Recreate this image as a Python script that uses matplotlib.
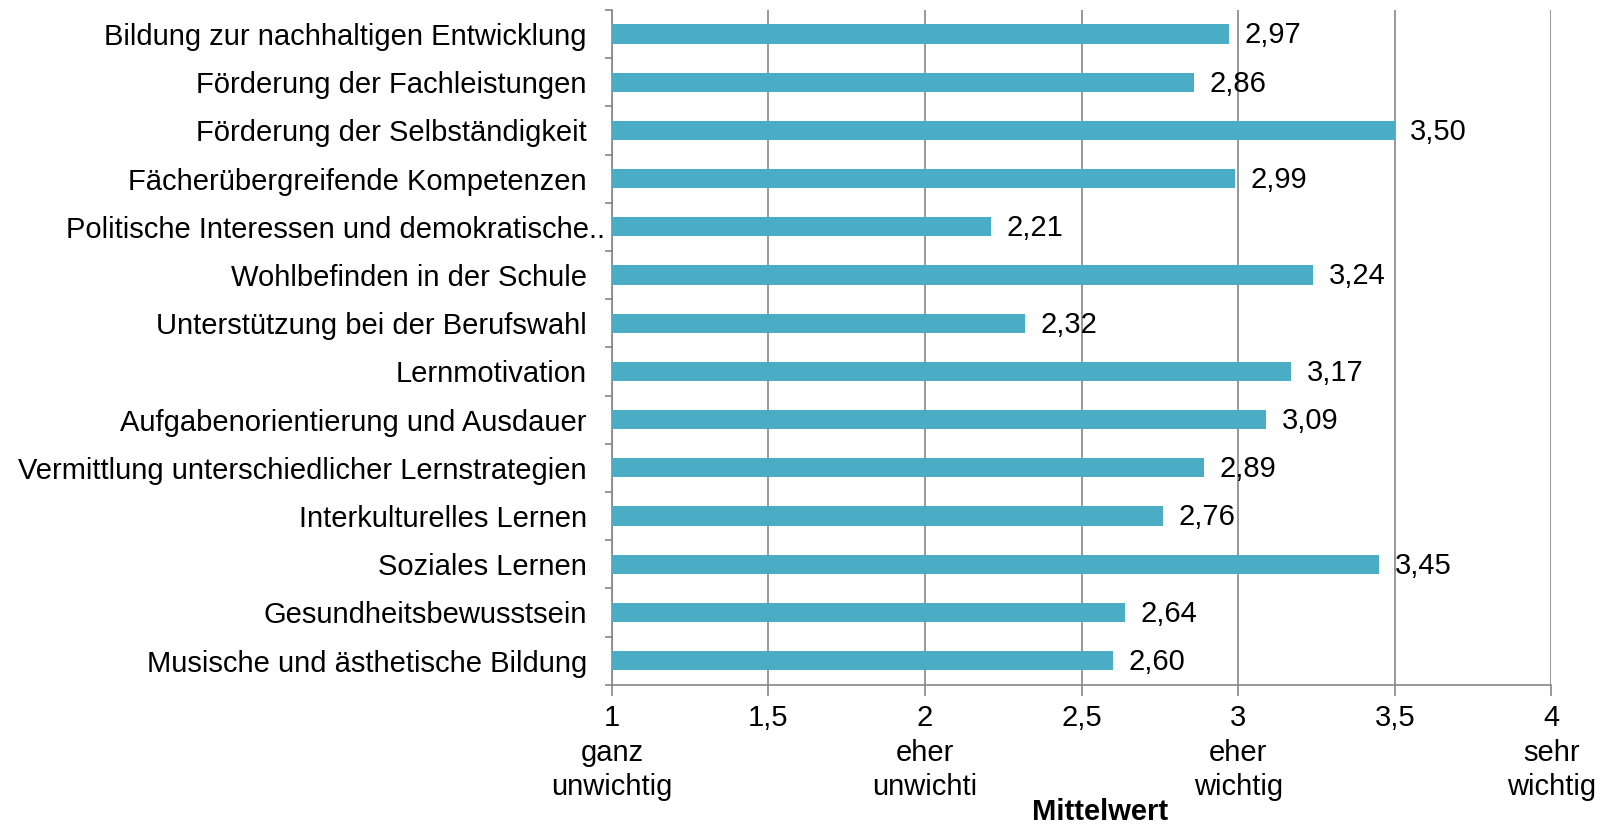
import matplotlib
matplotlib.use("Agg")
import matplotlib.pyplot as plt
import matplotlib.transforms as mtransforms
import numpy as np

plt.rcParams['font.family'] = ['Liberation Sans', 'DejaVu Sans']

categories = [
    "Bildung zur nachhaltigen Entwicklung",
    "Förderung der Fachleistungen",
    "Förderung der Selbständigkeit",
    "Fächerübergreifende Kompetenzen",
    "Politische Interessen und demokratische..",
    "Wohlbefinden in der Schule",
    "Unterstützung bei der Berufswahl",
    "Lernmotivation",
    "Aufgabenorientierung und Ausdauer",
    "Vermittlung unterschiedlicher Lernstrategien",
    "Interkulturelles Lernen",
    "Soziales Lernen",
    "Gesundheitsbewusstsein",
    "Musische und ästhetische Bildung",
]
values = [2.97, 2.86, 3.50, 2.99, 2.21, 3.24, 2.32, 3.17, 3.09, 2.89, 2.76, 3.45, 2.64, 2.60]
xticks = [1, 1.5, 2, 2.5, 3, 3.5, 4]
xticklabels = ["1\nganz\nunwichtig", "1,5", "2\neher\nunwichti", "2,5",
               "3\neher\nwichtig", "3,5", "4\nsehr\nwichtig"]
xlabel = "Mittelwert"

bar_color = "#4BACC6"
grid_color = "#868686"
fs = 21

fig = plt.figure(figsize=(16.06, 8.27), dpi=100)
ax = fig.add_axes([0.381, 0.172, 0.585, 0.816])

n = len(categories)
y = np.arange(n)
ax.barh(y, [v - 1 for v in values], left=1, height=0.4, color=bar_color, zorder=3)
ax.set_ylim(n - 0.5, -0.5)
ax.set_xlim(1, 4)

for yi, v in zip(y, values):
    ax.annotate(f"{v:.2f}".replace(".", ","), xy=(v, yi), xytext=(11, -1),
                textcoords="offset points", va="center", ha="left", fontsize=fs,
                color="black", zorder=4)

ax.set_yticks(y)
ax.set_yticklabels(categories, fontsize=fs)
ax.tick_params(axis='y', which='major', length=0, pad=18)
ax.set_yticks(np.arange(n + 1) - 0.5, minor=True)
ax.tick_params(axis='y', which='minor', length=5, color=grid_color, width=1.2)

# the truncated label in the reference overhangs the right alignment slightly
lbl = ax.get_yticklabels()[4]
lbl.set_transform(lbl.get_transform() + mtransforms.ScaledTranslation(13 / 72, 0, fig.dpi_scale_trans))

ax.set_xticks(xticks)
ax.set_xticklabels(xticklabels, fontsize=fs, linespacing=1.3, va='top')
ax.tick_params(axis='x', which='major', length=8, color=grid_color, width=1.2, pad=6)

ax.xaxis.grid(True, color=grid_color, linewidth=1.2, zorder=0)
ax.set_axisbelow(True)

for s in ['top', 'right']:
    ax.spines[s].set_visible(False)
for s in ['left', 'bottom']:
    ax.spines[s].set_color(grid_color)
    ax.spines[s].set_linewidth(1.2)

ax.set_xlabel(xlabel, fontsize=fs, fontweight='bold')
ax.xaxis.set_label_coords(0.52, -0.168)

fig.savefig("out.png", dpi=100)
